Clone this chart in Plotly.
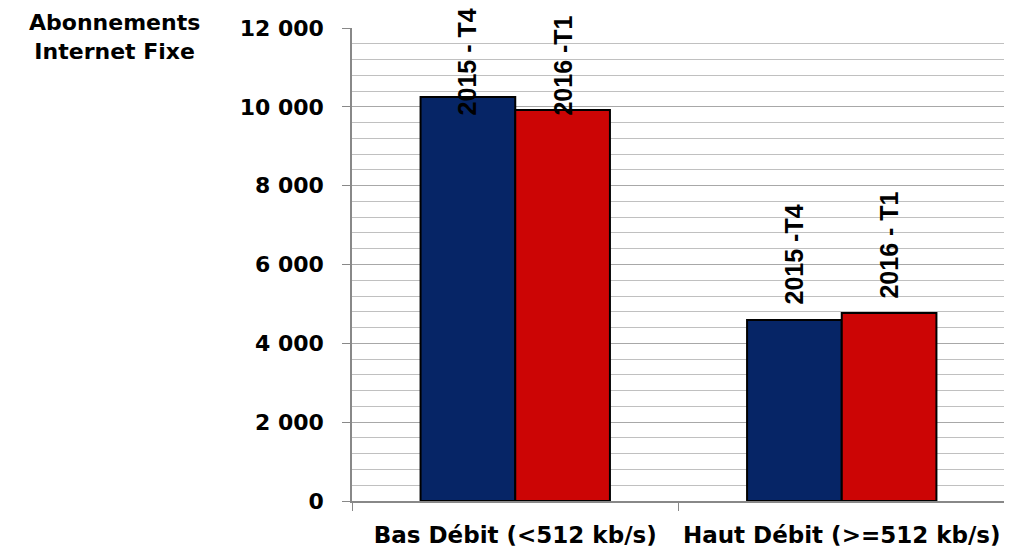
import plotly.graph_objects as go

categories = ["Bas Débit (<512 kb/s)", "Haut Débit (>=512 kb/s)"]
series_names = ["2015-T4", "2016-T1"]
values_2015_t4 = [10250, 4590]
values_2016_t1 = [9920, 4770]
bar_labels_2015 = ["2015 - T4", "2015 -T4"]
bar_labels_2016 = ["2016 -T1", "2016 - T1"]
y_tickvals = [0, 2000, 4000, 6000, 8000, 10000, 12000]
y_ticktext = ["0", "2 000", "4 000", "6 000", "8 000", "10 000", "12 000"]

NAVY = "#062566"
RED = "#CC0505"
FONT = "DejaVu Sans"

fig = go.Figure()
fig.add_trace(go.Bar(
    name=series_names[0], x=categories, y=values_2015_t4,
    marker=dict(color=NAVY, line=dict(color="black", width=2)),
    offsetgroup=0,
))
fig.add_trace(go.Bar(
    name=series_names[1], x=categories, y=values_2016_t1,
    marker=dict(color=RED, line=dict(color="black", width=2)),
    offsetgroup=1,
))

# rotated labels above bars
shifts_2015 = [-20, 14]
shifts_2016 = [-8, 12]
bw = 0.29
for i, cat in enumerate(categories):
    for lbls, vals, shifts, off in [(bar_labels_2015, values_2015_t4, shifts_2015, -bw / 2),
                                    (bar_labels_2016, values_2016_t1, shifts_2016, bw / 2)]:
        fig.add_annotation(
            x=i + off, xref="x", y=vals[i], yref="y",
            text="<b>" + lbls[i] + "</b>", textangle=-90, showarrow=False,
            yanchor="bottom", xanchor="center", yshift=shifts[i],
            font=dict(family="Liberation Sans", size=25, color="black"),
        )

fig.add_annotation(
    x=-0.363, xref="paper", y=0.982, yref="paper", yanchor="middle", xanchor="center",
    text="<b>Abonnements<br>Internet Fixe</b>",
    showarrow=False, font=dict(family=FONT, size=22, color="black"),
)

fig.update_layout(
    width=1004, height=546,
    margin=dict(l=344, r=7, t=20, b=53, autoexpand=False),
    paper_bgcolor="white", plot_bgcolor="white",
    barmode="group", bargap=0.42, bargroupgap=0,
    showlegend=False,
    font=dict(family=FONT, size=20, color="black"),
)
fig.update_xaxes(
    type="category", tickson="boundaries", ticks="outside", ticklen=8, tickcolor="#888",
    showline=True, linecolor="#888", linewidth=1.5,
    tickfont=dict(family=FONT, size=23, color="black", weight="bold"),
    tickangle=0, automargin=False,
    showgrid=False, ticklabelstandoff=13,
)
fig.update_yaxes(
    range=[0, 12000], tickvals=y_tickvals, ticktext=y_ticktext,
    ticks="outside", ticklen=8, tickcolor="#888",
    showline=True, linecolor="#888", linewidth=1.5,
    showgrid=True, gridcolor="#a8a8a8", gridwidth=1,
    minor=dict(dtick=400, showgrid=True, gridcolor="#c0c0c0", gridwidth=1),
    tickfont=dict(family=FONT, size=22, color="black", weight="bold"),
    ticklabelstandoff=14, automargin=False,
    zeroline=False,
)

fig.write_html("out.html")
